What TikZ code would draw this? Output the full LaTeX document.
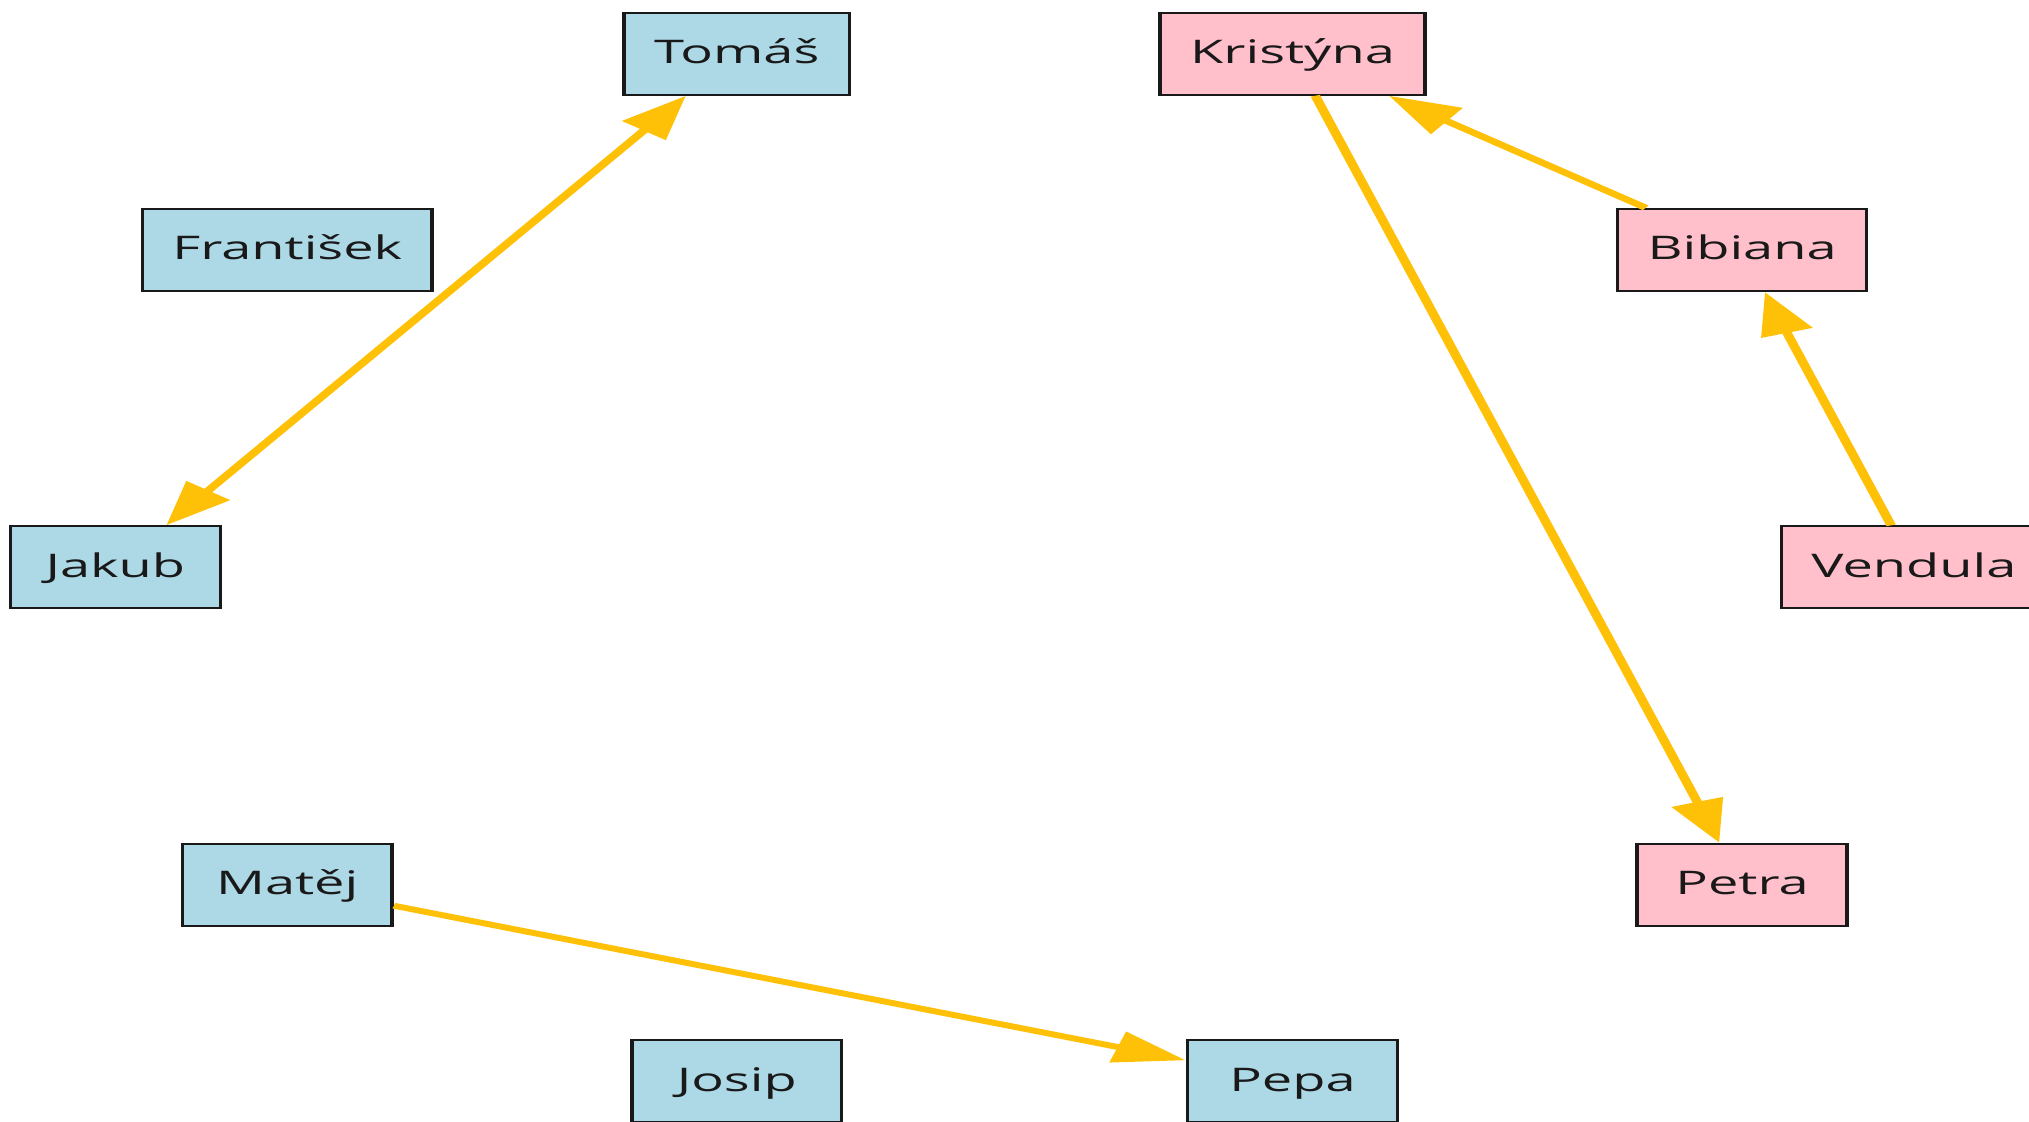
\documentclass[tikz,border=0pt]{standalone}
\usepackage{fontspec}
\setmainfont{Open Sans}
\usetikzlibrary{arrows.meta}
\definecolor{nodeblue}{RGB}{173,216,230}
\definecolor{nodepink}{RGB}{255,192,203}
\definecolor{edgegold}{RGB}{255,193,7}
\begin{document}
\begin{tikzpicture}[x=0.01cm,y=-0.01cm,
  person/.style={draw=black!90, line width=0.6pt, rectangle, minimum height=0.82cm,
    minimum width=1.26cm, inner xsep=0.18cm, inner ysep=0pt,
    text height=0.3cm, text depth=0.1cm,
    font=\fontsize{9.25}{11}\selectfont, text=black!90},
  boy/.style={person, fill=nodeblue},
  girl/.style={person, fill=nodepink},
  tipshape/.tip={Triangle[length=0.43cm,width=0.31cm]},
  rel/.style={draw=edgegold, line width=1.65pt, -tipshape},
  both/.style={draw=edgegold, line width=1.65pt, tipshape-tipshape},
]
\useasboundingbox (0,0) rectangle (2029,1122);
\clip (0,0) rectangle (2029,1122);
\fill[white] (0,0) rectangle (2029,1122);
\begin{scope}[transform canvas={xscale=1.665}]
\node[boy]  (tomas)     at (442.5,53.7)   {Tomáš};
\node[girl] (kristyna)  at (776.3,53.7)   {Kristýna};
\node[boy]  (frantisek) at (172.5,249.9)  {František};
\node[girl] (bibiana)   at (1046.3,249.9) {Bibiana};
\node[boy]  (jakub)     at (69.3,567.4)   {Jakub};
\node[girl] (vendula)   at (1149.5,567.4) {Vendula};
\node[boy]  (matej)     at (172.5,884.9)  {Matěj};
\node[girl] (petra)     at (1046.3,884.9) {Petra};
\node[boy]  (josip)     at (442.5,1081.1) {Josip};
\node[boy]  (pepa)      at (776.3,1081.1) {Pepa};

\draw[both] (tomas) -- (jakub);
\draw[rel] (kristyna) -- (petra);
\draw[rel] (bibiana) -- (kristyna);
\draw[rel] (vendula) -- (bibiana);
\draw[rel] (matej) -- (pepa);
\end{scope}
\end{tikzpicture}
\end{document}
